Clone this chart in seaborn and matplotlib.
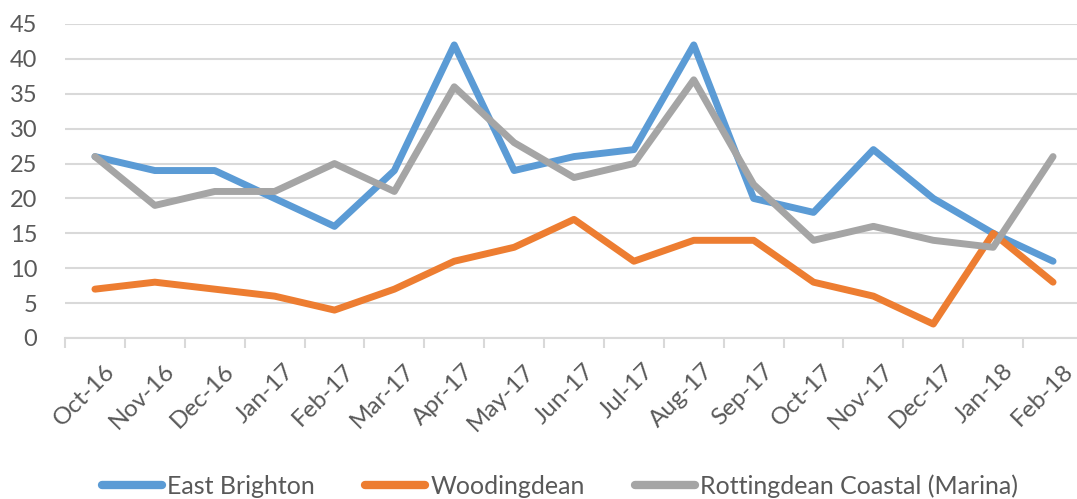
import pandas as pd
import matplotlib
matplotlib.use("Agg")
import matplotlib.pyplot as plt
import seaborn as sns
from matplotlib.ticker import FixedLocator
from matplotlib.transforms import ScaledTranslation

months = ["Oct-16", "Nov-16", "Dec-16", "Jan-17", "Feb-17", "Mar-17", "Apr-17", "May-17",
          "Jun-17", "Jul-17", "Aug-17", "Sep-17", "Oct-17", "Nov-17", "Dec-17", "Jan-18", "Feb-18"]
east_brighton = [26, 24, 24, 20, 16, 24, 42, 24, 26, 27, 42, 20, 18, 27, 20, 15, 11]
woodingdean = [7, 8, 7, 6, 4, 7, 11, 13, 17, 11, 14, 14, 8, 6, 2, 15, 8]
rottingdean = [26, 19, 21, 21, 25, 21, 36, 28, 23, 25, 37, 22, 14, 16, 14, 13, 26]

series = {
    "East Brighton": east_brighton,
    "Woodingdean": woodingdean,
    "Rottingdean Coastal (Marina)": rottingdean,
}
colors = ["#5B9BD5", "#ED7D31", "#A5A5A5"]

rows = []
for name, vals in series.items():
    for i, v in enumerate(vals):
        rows.append({"idx": i, "month": months[i], "value": v, "area": name})
df = pd.DataFrame(rows)

sns.set_style("white")
plt.rcParams['font.family'] = ['Lato', 'DejaVu Sans']

fig = plt.figure(figsize=(10.77, 4.99), dpi=100)
ax = fig.add_axes([65 / 1077, (499 - 338) / 499, (1083 - 65) / 1077, (338 - 24) / 499])

sns.lineplot(data=df, x="idx", y="value", hue="area", palette=colors, linewidth=5,
             ax=ax, legend=True)

ax.set_xlim(-0.5, len(months) - 0.5)
ax.set_ylim(0, 45)
ax.set_yticks(range(0, 46, 5))
ax.yaxis.grid(True, color="#D9D9D9", linewidth=1.5)
ax.set_axisbelow(True)
for s in ["top", "right", "left"]:
    ax.spines[s].set_visible(False)
ax.spines["bottom"].set_color("#D9D9D9")
ax.spines["bottom"].set_linewidth(1.5)

ax.set_xticks(range(len(months)))
ax.set_xticklabels(months, rotation=45, ha="right", rotation_mode="anchor")
ax.xaxis.set_minor_locator(FixedLocator([i - 0.5 for i in range(len(months) + 1)]))
ax.tick_params(axis="x", which="major", length=0, pad=16, labelsize=17.5, labelcolor="#595959")
ax.tick_params(axis="x", which="minor", length=7, width=1.5, color="#D9D9D9", bottom=True)
ax.tick_params(axis="y", length=0, pad=20, labelsize=17, labelcolor="#595959")
ax.set_xlabel("")
ax.set_ylabel("")

# nudge rotated month labels to the right, like the original
shift = ScaledTranslation(9 / 100, 0, fig.dpi_scale_trans)
for lab in ax.get_xticklabels():
    lab.set_transform(lab.get_transform() + shift)

handles, labels = ax.get_legend_handles_labels()
for h in handles:
    h.set_linewidth(6)
ax.legend(handles, labels, loc="center", bbox_to_anchor=(560 / 1077, 13 / 499),
          bbox_transform=fig.transFigure, ncol=3, frameon=False, fontsize=18,
          handlelength=2.4, handletextpad=0.2, columnspacing=2.0, labelcolor="#595959")

fig.savefig("out.png", dpi=100)
